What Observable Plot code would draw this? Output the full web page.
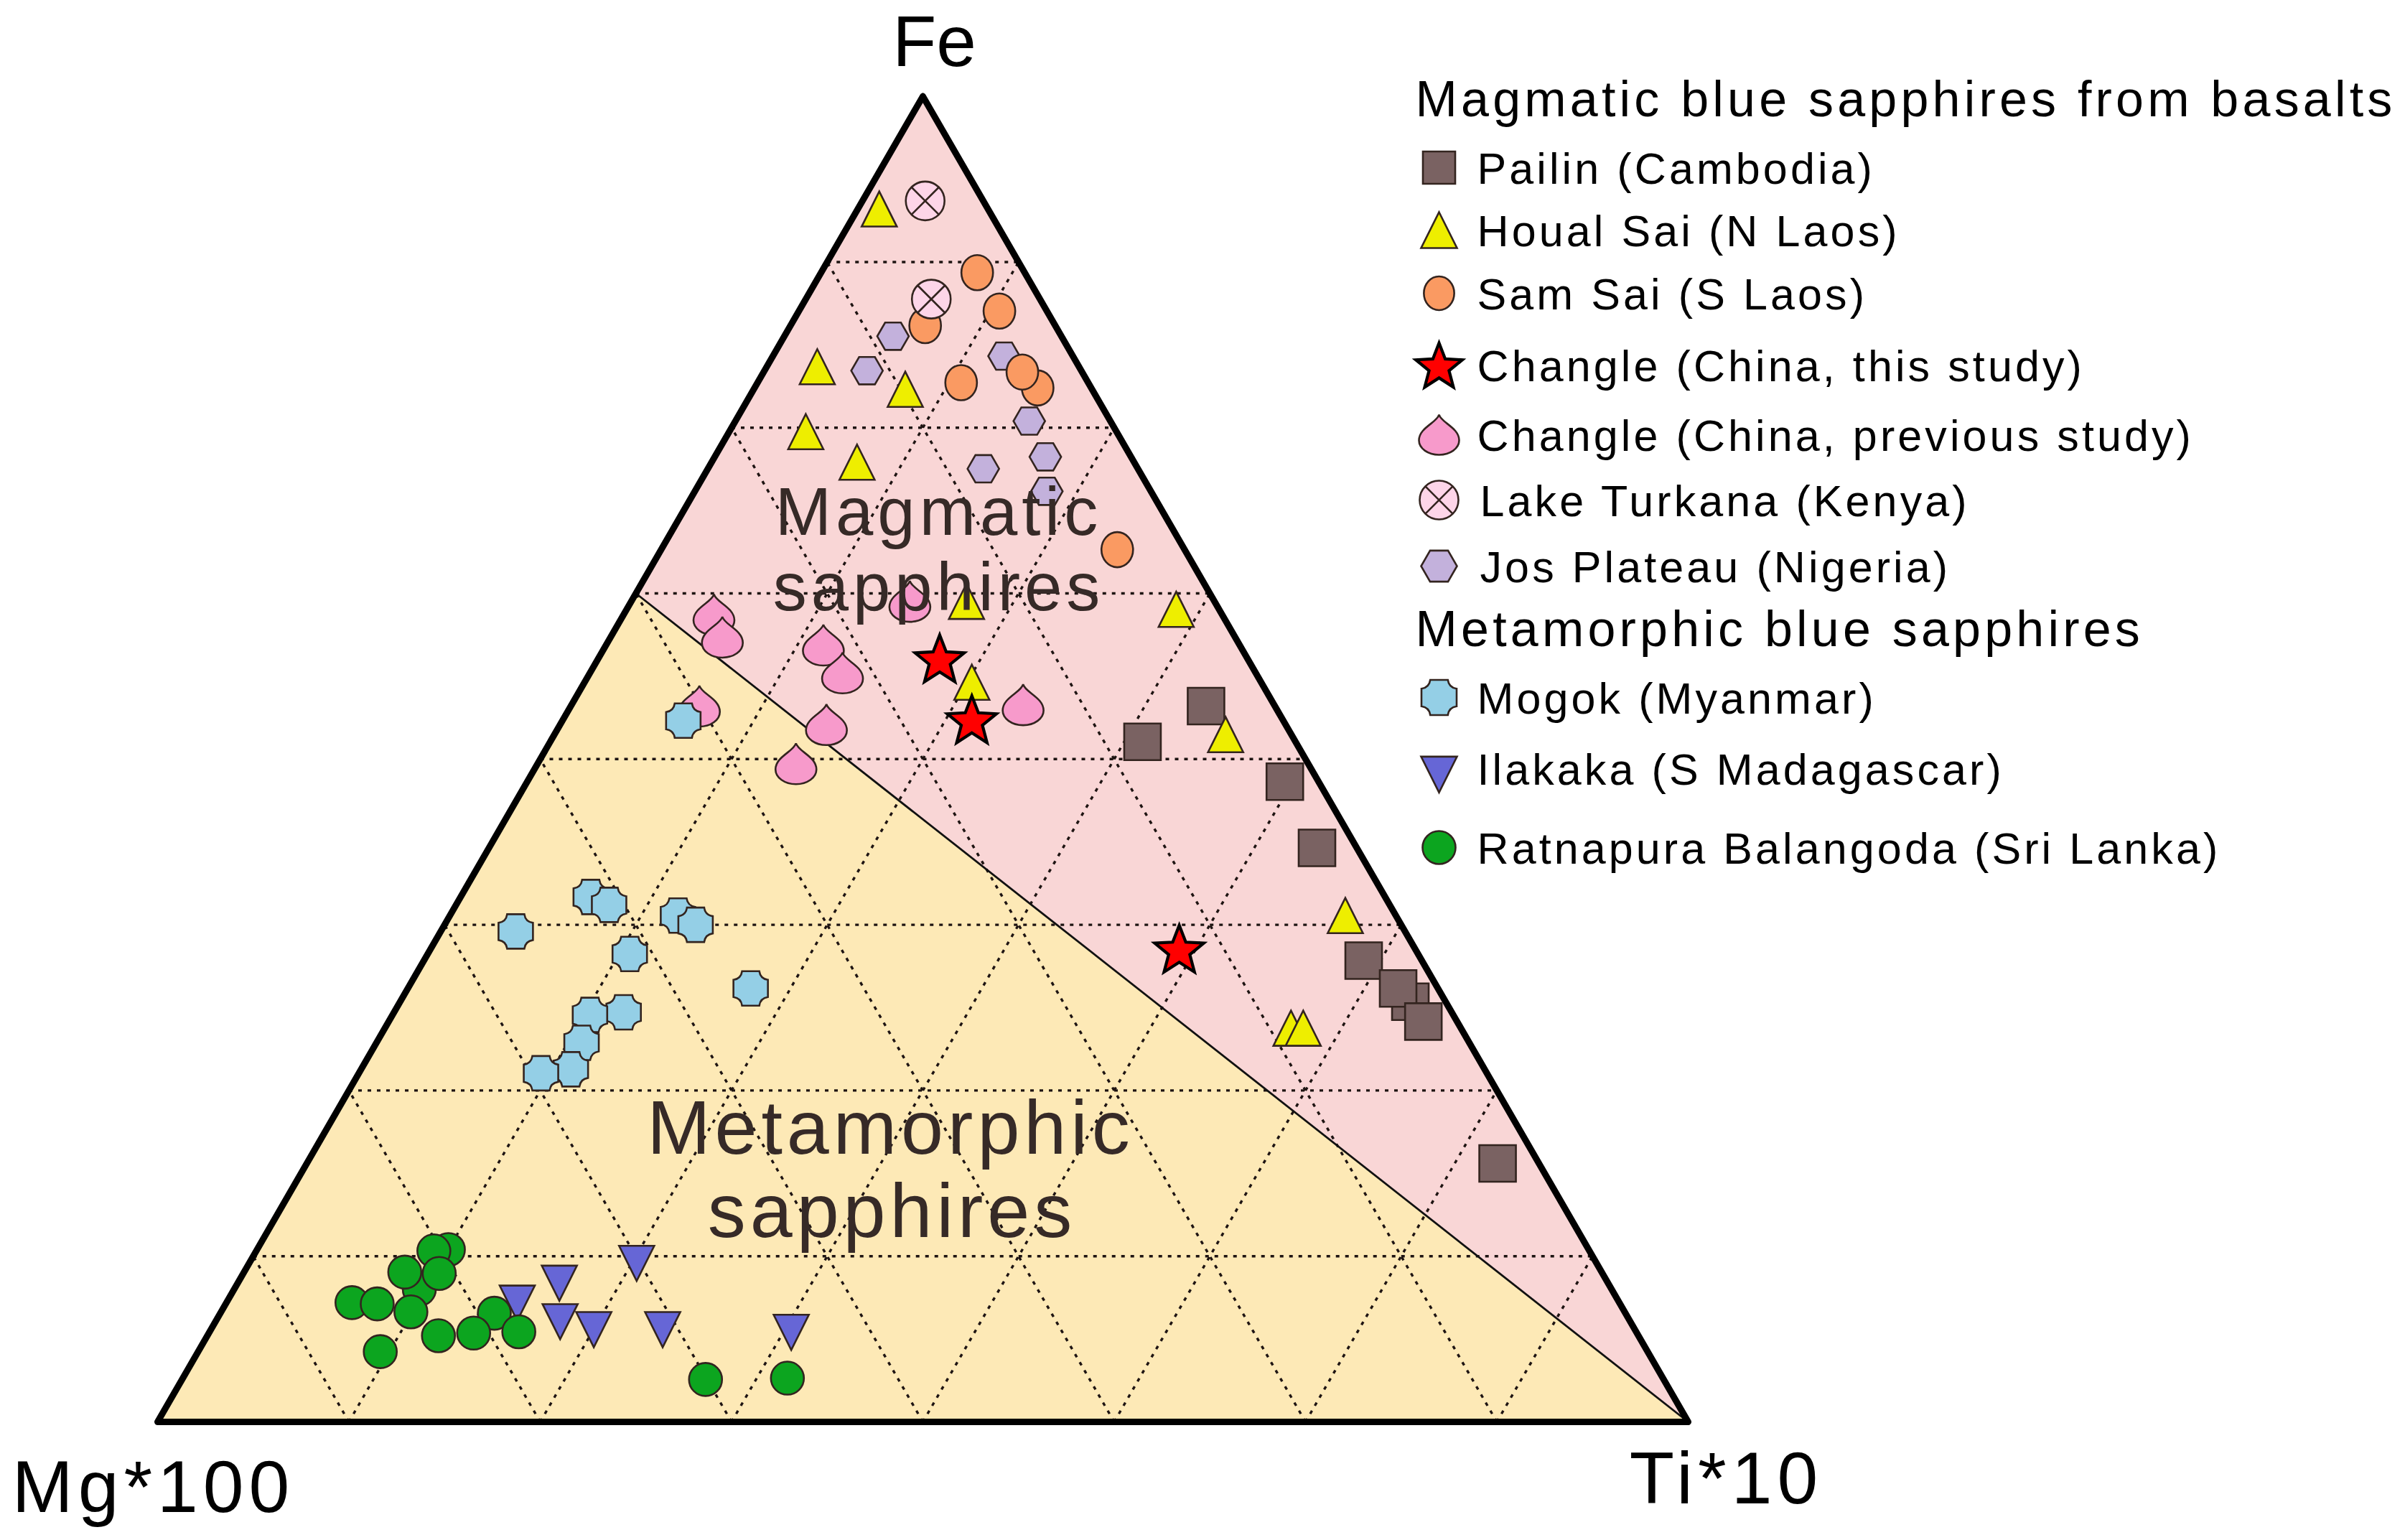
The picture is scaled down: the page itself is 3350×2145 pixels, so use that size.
<!DOCTYPE html>
<html>
<head>
<meta charset="utf-8">
<script src="https://cdn.jsdelivr.net/npm/d3@7"></script>
<script src="https://cdn.jsdelivr.net/npm/@observablehq/plot@0.6"></script>
<style>
html, body { margin: 0; padding: 0; background: #ffffff; }
#chart svg { display: block; }
.lbl-axis text { letter-spacing: 7px; }
.lbl-fe text { letter-spacing: 0px; }
.lbl-region text { letter-spacing: 6px; }
.lg-head text { letter-spacing: 5.2px; }
.lg-item text { letter-spacing: 4.1px; }
</style>
</head>
<body>
<div id="chart"></div>
<script>
// ---------- DATA: each point is [Fe, Ti*10, Mg*100] in % ----------
const pailin = [
  [54.0, 41.5, 4.5], [51.3, 38.7, 10.0], [48.3, 49.5, 2.2], [43.3, 54.1, 2.6],
  [34.8, 61.4, 3.8], [31.7, 66.0, 2.3], [32.7, 64.7, 2.6], [30.2, 67.6, 2.2],
  [19.5, 77.8, 2.7]
];
const houalSai = [
  [91.5, 1.4, 7.1], [79.6, 3.3, 17.1], [77.9, 9.9, 12.2], [74.7, 5.0, 20.3],
  [72.4, 9.5, 18.1], [61.9, 21.9, 16.2], [55.8, 25.3, 18.9], [61.3, 35.9, 2.8],
  [51.9, 43.9, 4.3], [38.2, 58.5, 3.3], [29.7, 59.2, 11.1], [29.7, 60.0, 10.3]
];
const josPlateau = [
  [81.9, 7.1, 11.0], [79.3, 6.7, 14.0], [80.4, 15.1, 4.5], [75.5, 19.2, 5.3],
  [72.8, 21.6, 5.6], [71.9, 18.0, 10.1], [70.2, 23.0, 6.8]
];
const samSai = [
  [86.7, 10.2, 3.1], [83.8, 13.1, 3.1], [82.7, 8.8, 8.5], [78.4, 13.3, 8.3],
  [78.0, 18.5, 3.5], [79.2, 16.9, 3.9], [65.8, 29.8, 4.4]
];
const lakeTurkana = [
  [92.2, 4.1, 3.8], [84.7, 8.2, 7.1]
];
const changlePrevious = [
  [60.9, 5.9, 33.2], [59.2, 7.3, 33.5], [58.6, 14.2, 27.2], [56.5, 16.5, 27.0],
  [61.9, 18.2, 19.9], [54.1, 29.5, 16.4], [54.0, 8.4, 37.6], [52.6, 17.4, 30.0],
  [49.7, 16.9, 33.5]
];
const changleThisStudy = [
  [57.6, 22.3, 20.1], [53.0, 26.7, 20.3], [35.7, 48.9, 15.4]
];
const mogok = [
  [52.9, 7.9, 39.2], [39.6, 8.5, 51.9], [39.0, 10.0, 51.0], [37.0, 4.9, 58.1],
  [38.2, 14.9, 46.9], [37.5, 16.4, 46.1], [35.3, 13.2, 51.5], [32.7, 22.4, 44.9],
  [30.9, 15.0, 54.1], [30.7, 12.9, 56.4], [28.6, 13.4, 58.0], [26.6, 13.7, 59.7],
  [26.3, 11.9, 61.8]
];
const ilakaka = [
  [12.4, 25.1, 62.5], [10.9, 20.8, 68.3], [9.4, 18.8, 71.8], [8.0, 22.3, 69.7],
  [7.4, 24.8, 67.8], [7.4, 29.3, 63.3], [7.2, 37.8, 55.0]
];
const ratnapura = [
  [10.0, 12.1, 77.9], [8.2, 17.9, 73.9], [13.0, 12.5, 74.5], [12.9, 11.6, 75.5],
  [11.2, 12.8, 76.0], [11.3, 10.5, 78.2], [9.0, 8.2, 82.8], [8.9, 9.9, 81.2],
  [8.3, 12.4, 79.3], [6.5, 15.1, 78.4], [6.7, 17.3, 76.0], [6.8, 20.2, 73.0],
  [5.3, 11.9, 82.8], [3.2, 34.2, 62.6], [3.3, 39.5, 57.2]
];
// grid "ticks" (percent) and the field boundary (Fe 62.5 %, Mg 37.5 % on the Fe–Mg side, to the Ti apex)
const gridTicks = [12.5, 25, 37.5, 50, 62.5, 75, 87.5];
const boundaryStart = [62.5, 0, 37.5];
const apexLabels = ["Fe", "Mg*100", "Ti*10"];
const regionLabels = [["Magmatic", "sapphires"], ["Metamorphic", "sapphires"]];
const legendHeads = ["Magmatic blue sapphires from basalts", "Metamorphic blue sapphires"];

// ---------- geometry ----------
const X0 = 219, X1 = 2351, YB = 1980;
const YT = YB - (X1 - X0) * Math.sqrt(3) / 2;
const px = X => (X - X0) / (X1 - X0);
const py = Y => (YB - Y) / (YB - YT);
const tx = d => (d[1] + d[0] / 2) / (d[0] + d[1] + d[2]);
const ty = d => d[0] / (d[0] + d[1] + d[2]);

const feV = [100, 0, 0], tiV = [0, 100, 0], mgV = [0, 0, 100];

// ---------- symbols ----------
const rad = s => Math.sqrt(s / Math.PI);
const K = 0.5523;
const sqSym = { draw(c, s) { const r = rad(s); c.rect(-r, -r, 2 * r, 2 * r); } };
const triUp = { draw(c, s) { const r = rad(s); c.moveTo(0, -r); c.lineTo(r, r); c.lineTo(-r, r); c.closePath(); } };
const triDown = { draw(c, s) { const r = rad(s); c.moveTo(-r, -0.667 * r); c.lineTo(r, -0.667 * r); c.lineTo(0, 1.333 * r); c.closePath(); } };
const ellSym = ratio => ({ draw(c, s) {
  const ry = rad(s), rx = ry * ratio;
  c.moveTo(rx, 0);
  c.bezierCurveTo(rx, K * ry, K * rx, ry, 0, ry);
  c.bezierCurveTo(-K * rx, ry, -rx, K * ry, -rx, 0);
  c.bezierCurveTo(-rx, -K * ry, -K * rx, -ry, 0, -ry);
  c.bezierCurveTo(K * rx, -ry, rx, -K * ry, rx, 0);
  c.closePath();
} });
const starSym = { draw(c, s) {
  const R = rad(s), ri = R * 0.43, off = 0.0955 * R;
  for (let i = 0; i < 10; i++) {
    const a = -Math.PI / 2 + i * Math.PI / 5, rr = i % 2 ? ri : R;
    const x = rr * Math.cos(a), y = rr * Math.sin(a) + off;
    if (i) c.lineTo(x, y); else c.moveTo(x, y);
  }
  c.closePath();
} };
const dropSym = { draw(c, s) {
  const r = rad(s);
  c.moveTo(0, -r);
  c.bezierCurveTo(0.1 * r, -0.6 * r, r, -0.35 * r, r, 0.28 * r);
  c.bezierCurveTo(r, 0.68 * r, K * r, r, 0, r);
  c.bezierCurveTo(-K * r, r, -r, 0.68 * r, -r, 0.28 * r);
  c.bezierCurveTo(-r, -0.35 * r, -0.1 * r, -0.6 * r, 0, -r);
  c.closePath();
} };
const xCircle = { draw(c, s) {
  const r = rad(s), q = r * Math.SQRT1_2;
  c.moveTo(r, 0); c.arc(0, 0, r, 0, 2 * Math.PI); c.closePath();
  c.moveTo(-q, -q); c.lineTo(q, q); c.moveTo(q, -q); c.lineTo(-q, q);
} };
const hexSym = { draw(c, s) {
  const r = rad(s);
  for (let i = 0; i < 6; i++) {
    const a = i * Math.PI / 3, x = r * Math.cos(a), y = r * Math.sin(a);
    if (i) c.lineTo(x, y); else c.moveTo(x, y);
  }
  c.closePath();
} };
const mogokSym = { draw(c, s) {
  const r = rad(s), a = 0.5 * r, q = 0.56 * r;
  c.moveTo(-a, -r); c.lineTo(a, -r); c.quadraticCurveTo(q, -q, r, -a);
  c.lineTo(r, a); c.quadraticCurveTo(q, q, a, r);
  c.lineTo(-a, r); c.quadraticCurveTo(-q, q, -r, a);
  c.lineTo(-r, -a); c.quadraticCurveTo(-q, -q, -a, -r);
  c.closePath();
} };

const EDGE = "#33241f";
// drawing order (bottom to top) with legend row index
const series = [
  { name: "Pailin (Cambodia)", data: pailin, sym: sqSym, fill: "#7a6262", r: 25.5, lr: 22.5, row: 0 },
  { name: "Houal Sai (N Laos)", data: houalSai, sym: triUp, fill: "#eeee00", r: 24.5, lr: 25, row: 1 },
  { name: "Jos Plateau (Nigeria)", data: josPlateau, sym: hexSym, fill: "#c3b1dc", r: 22, lr: 25, row: 6 },
  { name: "Sam Sai (S Laos)", data: samSai, sym: ellSym(0.9), fill: "#fa9a62", r: 24.5, lr: 23.5, row: 2 },
  { name: "Lake Turkana (Kenya)", data: lakeTurkana, sym: xCircle, fill: "#fdd5e8", r: 27, lr: 27, row: 5 },
  { name: "Changle (China, previous study)", data: changlePrevious, sym: dropSym, fill: "#f79acb", r: 28.5, lr: 28, row: 4 },
  { name: "Changle (China, this study)", data: changleThisStudy, sym: starSym, fill: "#ff0000", r: 36, lr: 34, row: 3, stroke: "#000", sw: 4.2 },
  { name: "Mogok (Myanmar)", data: mogok, sym: mogokSym, fill: "#94cfe6", r: 24, lr: 24.5, row: 7 },
  { name: "Ilakaka (S Madagascar)", data: ilakaka, sym: triDown, fill: "#6666d6", r: 24.5, lr: 25, row: 8 },
  { name: "Ratnapura Balangoda (Sri Lanka)", data: ratnapura, sym: ellSym(1.0), fill: "#0ca51f", r: 23, lr: 23, row: 9 }
];

// ---------- layout constants (pixels) ----------
const legendSymX = 2004, legendTextX = 2057, legendHeadX = 1971;
const rowCenters = [233, 320, 408, 508, 605, 696, 788, 971, 1070, 1180];
const headBaselines = [161, 899];

// ---------- grid ----------
const gridLines = [];
for (const f of gridTicks) {
  gridLines.push({ a: [f, 0, 100 - f], b: [f, 100 - f, 0] });      // Fe constant
  gridLines.push({ a: [0, f, 100 - f], b: [100 - f, f, 0] });      // Ti constant
  gridLines.push({ a: [0, 100 - f, f], b: [100 - f, 0, f] });      // Mg constant
}
const pinkRegion = [feV, tiV, boundaryStart, feV];
const yellowRegion = [mgV, tiV, boundaryStart, mgV];
const outline = [feV, tiV, mgV, feV];

const FONT = "Liberation Sans, Arial, Helvetica, sans-serif";

const marks = [
  Plot.line(yellowRegion, { x: tx, y: ty, fill: "#fde9b6", stroke: "none" }),
  Plot.line(pinkRegion, { x: tx, y: ty, fill: "#f9d6d6", stroke: "none" }),
  Plot.link(gridLines, {
    x1: d => tx(d.a), y1: d => ty(d.a), x2: d => tx(d.b), y2: d => ty(d.b),
    stroke: "#1e1412", strokeWidth: 3.4, strokeDasharray: "5 8"
  }),
  Plot.link([{ a: boundaryStart, b: tiV }], {
    x1: d => tx(d.a), y1: d => ty(d.a), x2: d => tx(d.b), y2: d => ty(d.b),
    stroke: "#111", strokeWidth: 2.8
  }),
  Plot.line(outline, { x: tx, y: ty, stroke: "#000", strokeWidth: 9, strokeLinejoin: "round", strokeLinecap: "round" })
];

for (const s of series) {
  marks.push(Plot.dot(s.data, {
    x: tx, y: ty, symbol: s.sym, r: s.r, fill: s.fill,
    stroke: s.stroke || EDGE, strokeWidth: s.sw || 2.6
  }));
}

// region labels
marks.push(Plot.text([0, 1], {
  x: i => px([1307, 1307][i]), y: i => py([744, 849][i]),
  text: i => regionLabels[0][i], textAnchor: "middle", lineAnchor: "bottom",
  fontSize: 94, fontFamily: FONT, fill: "#362a27", className: "lbl-region"
}));
marks.push(Plot.text([0, 1], {
  x: i => px([1240, 1242][i]), y: i => py([1606, 1722][i]),
  text: i => regionLabels[1][i], textAnchor: "middle", lineAnchor: "bottom",
  fontSize: 106, fontFamily: FONT, fill: "#362a27", className: "lbl-region"
}));

// apex labels
marks.push(Plot.text([0], {
  x: () => px(1301), y: () => py(91), text: () => apexLabels[0],
  textAnchor: "middle", lineAnchor: "bottom", fontSize: 100, fontFamily: FONT, fill: "#000", className: "lbl-fe"
}));
marks.push(Plot.text([1, 2], {
  x: i => px([213, 2404][i - 1]), y: i => py([2105, 2093][i - 1]), text: i => apexLabels[i],
  textAnchor: "middle", lineAnchor: "bottom", fontSize: 102, fontFamily: FONT, fill: "#000", className: "lbl-axis"
}));

// legend
marks.push(Plot.text([0, 1], {
  x: () => px(legendHeadX), y: i => py(headBaselines[i]), text: i => legendHeads[i],
  textAnchor: "start", lineAnchor: "bottom", fontSize: 70, fontFamily: FONT, fill: "#000", className: "lg-head"
}));
for (const s of series) {
  marks.push(Plot.dot([0], {
    x: () => px(legendSymX), y: () => py(rowCenters[s.row]), symbol: s.sym, r: s.lr, fill: s.fill,
    stroke: s.stroke || EDGE, strokeWidth: s.sw || 2.6
  }));
  marks.push(Plot.text([0], {
    x: () => px(legendTextX + ((s.row === 5 || s.row === 6) ? 4 : 0)),
    y: () => py(rowCenters[s.row] + 22), text: () => s.name,
    textAnchor: "start", lineAnchor: "bottom", fontSize: 61, fontFamily: FONT, fill: "#000", className: "lg-item"
  }));
}

const chart = Plot.plot({
  width: 3350, height: 2145,
  margin: 0,
  style: { background: "#ffffff", fontFamily: FONT },
  x: { domain: [0, 1], range: [X0, X1], axis: null },
  y: { domain: [0, 1], range: [YB, YT], axis: null },
  marks
});
document.getElementById("chart").appendChild(chart);
</script>
</body>
</html>
